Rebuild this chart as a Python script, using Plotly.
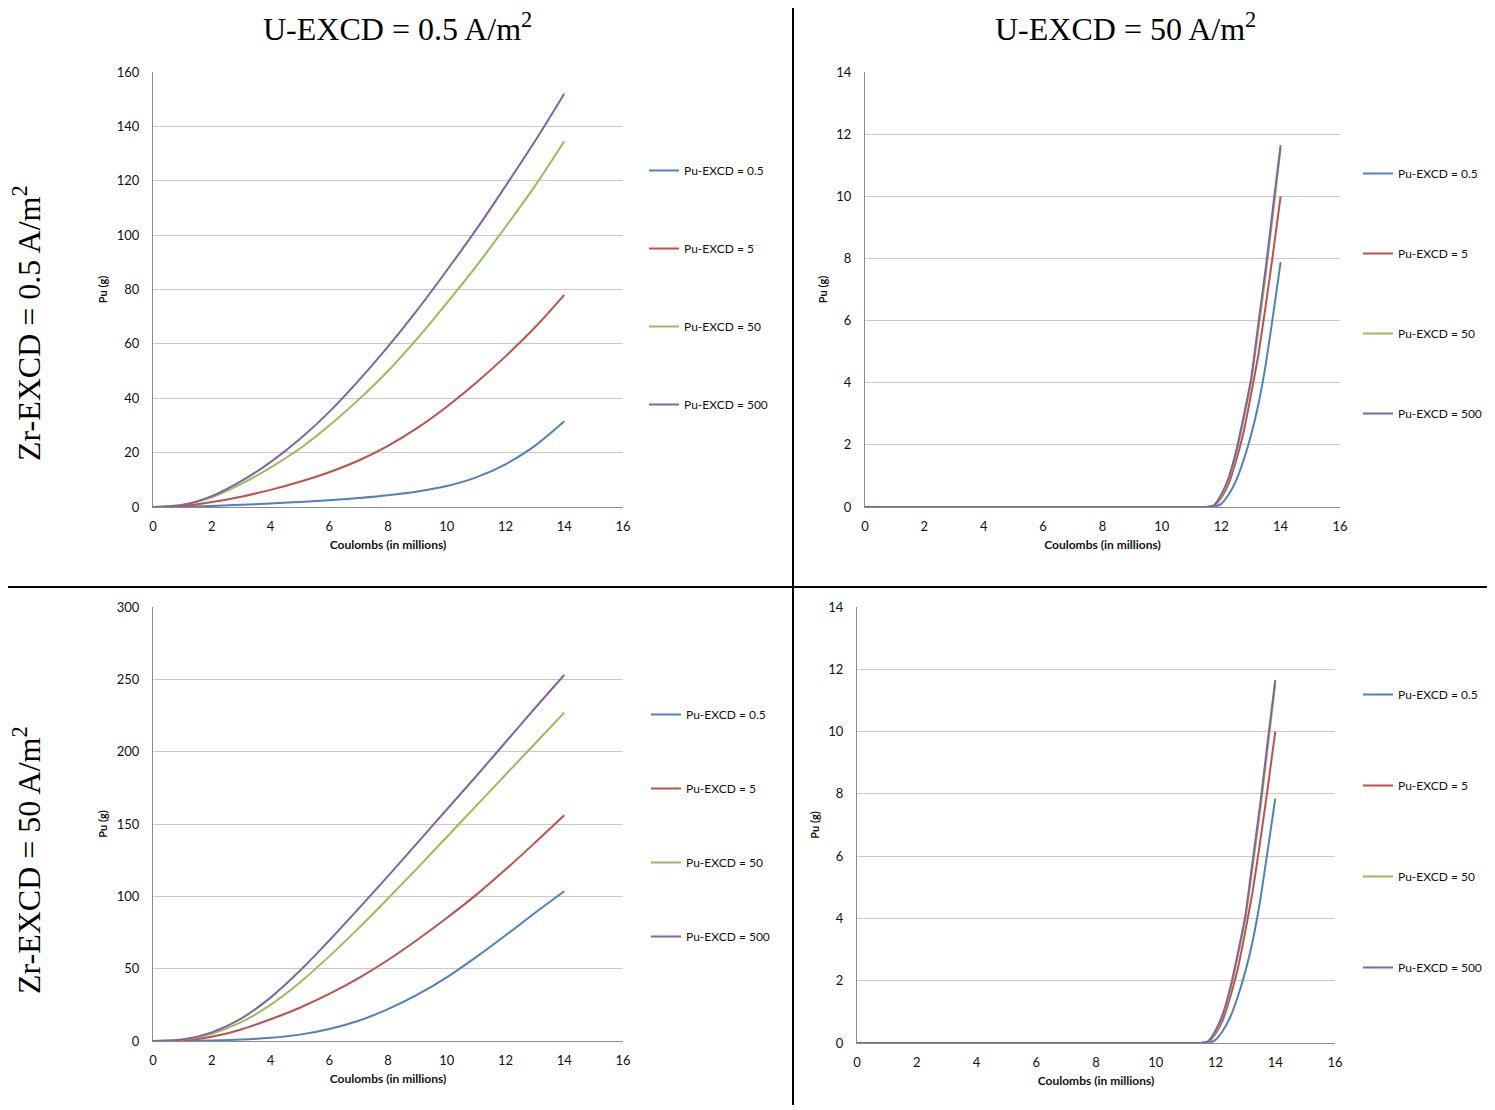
import plotly.graph_objects as go

# ---------------- data ----------------
series_names = ["Pu-EXCD = 0.5", "Pu-EXCD = 5", "Pu-EXCD = 50", "Pu-EXCD = 500"]
series_colors = ["#4F81BD", "#C0504D", "#9BBB59", "#8064A2"]

# left column (U-EXCD = 0.5 A/m2)
x_left = [0, 1, 2, 3, 4, 5, 6, 7, 8, 9, 10, 11, 12, 13, 14]

tl_blue = [0, 0.1, 0.4, 0.8, 1.3, 1.85, 2.5, 3.3, 4.3, 5.7, 7.7, 10.9, 15.7, 22.5, 31.5]
tl_red = [0, 0.3, 1.8, 3.8, 6.3, 9.3, 12.8, 17.1, 22.5, 29.1, 36.9, 45.7, 55.4, 66, 78]
tl_green = [0, 0.8, 3.6, 8.5, 14.5, 21.5, 30, 39.5, 50, 62, 75, 88.5, 103, 118, 134.5]
tl_purple = [0, 0.7, 4, 9.5, 16.5, 25, 35, 46.5, 59, 72.5, 87, 102, 118, 134.5, 152]

bl_blue = [0, 0.1, 0.4, 1, 2.2, 4.4, 8.3, 14, 22, 32, 44, 58, 73, 88.5, 103.5]
bl_red = [0, 0.4, 3, 8, 15, 23, 32.5, 43.5, 56, 70, 85, 101, 118.5, 137, 156]
bl_green = [0, 0.8, 5, 13, 25, 40.5, 58.5, 78, 98.5, 119.5, 141, 162.5, 184, 205.5, 227]
bl_purple = [0, 1, 6, 15.5, 30, 48.5, 69.5, 91.5, 114, 137, 160, 183, 206.5, 230, 253]

# right column (U-EXCD = 50 A/m2)
x_right = [0, 1, 2, 3, 4, 5, 6, 7, 8, 9, 10, 11, 11.5, 11.75, 12, 12.25, 12.5,
           12.75, 13, 13.25, 13.5, 13.75, 14]

tr_blue = [0, 0, 0, 0, 0, 0, 0, 0, 0, 0, 0, 0, 0, 0, 0.1, 0.4, 0.85, 1.5, 2.3, 3.3, 4.6, 6.2, 7.88]
tr_red = [0, 0, 0, 0, 0, 0, 0, 0, 0, 0, 0, 0, 0, 0.03, 0.3, 0.75, 1.5, 2.4, 3.6, 4.9, 6.5, 8.2, 10.0]
tr_green = [0, 0, 0, 0, 0, 0, 0, 0, 0, 0, 0, 0, 0, 0.04, 0.35, 0.9, 1.7, 2.8, 4.0, 5.7, 7.5, 9.5, 11.55]
tr_purple = [0, 0, 0, 0, 0, 0, 0, 0, 0, 0, 0, 0, 0, 0.05, 0.4, 0.95, 1.8, 2.9, 4.1, 5.9, 7.7, 9.7, 11.65]

br_blue = [0, 0, 0, 0, 0, 0, 0, 0, 0, 0, 0, 0, 0, 0, 0.1, 0.4, 0.85, 1.5, 2.3, 3.3, 4.6, 6.2, 7.85]
br_red = [0, 0, 0, 0, 0, 0, 0, 0, 0, 0, 0, 0, 0, 0.03, 0.3, 0.75, 1.5, 2.4, 3.6, 4.9, 6.5, 8.2, 10.0]
br_green = [0, 0, 0, 0, 0, 0, 0, 0, 0, 0, 0, 0, 0, 0.04, 0.35, 0.9, 1.7, 2.8, 4.0, 5.7, 7.5, 9.5, 11.55]
br_purple = [0, 0, 0, 0, 0, 0, 0, 0, 0, 0, 0, 0, 0, 0.05, 0.4, 0.95, 1.8, 2.9, 4.1, 5.9, 7.7, 9.7, 11.65]

x_ticks = [0, 2, 4, 6, 8, 10, 12, 14, 16]
col_titles = ["U-EXCD = 0.5 A/m<sup>2</sup>", "U-EXCD = 50 A/m<sup>2</sup>"]
row_titles = ["Zr-EXCD = 0.5 A/m<sup>2</sup>", "Zr-EXCD = 50 A/m<sup>2</sup>"]
x_title = "<b>Coulombs (in millions)</b>"
y_title = "<b>Pu (g)</b>"

# ---------------- layout helpers ----------------
# the page body has an 8px margin, so the figure is drawn 8px in from the window edge
OFF = 8
W, H = 1495 - OFF, 1110 - OFF
FONT = "Lato, 'Open Sans', sans-serif"


def fx(px):
    return (px - OFF) / W


def fy(py):
    return 1 - (py - OFF) / H


panels = [
    # (xaxis, yaxis, x px, y px (top,bottom), y range, dtick, x data, series, legend, legend top px, gap, smoothing)
    ("x", "y", (153, 623), (72, 507), [0, 160], 20, x_left,
     [tl_blue, tl_red, tl_green, tl_purple], "legend", 156, 59, 1.0),
    ("x2", "y2", (865, 1340), (72, 507), [0, 14], 2, x_right,
     [tr_blue, tr_red, tr_green, tr_purple], "legend2", 159, 61, 0.5),
    ("x3", "y3", (153, 623), (607, 1041), [0, 300], 50, x_left,
     [bl_blue, bl_red, bl_green, bl_purple], "legend3", 700, 55, 1.0),
    ("x4", "y4", (857, 1335), (607, 1043), [0, 14], 2, x_right,
     [br_blue, br_red, br_green, br_purple], "legend4", 680, 72, 0.5),
]

legend_x_px = [644, 1358, 646, 1358]

fig = go.Figure()
layout = dict(
    width=W, height=H,
    margin=dict(l=0, r=0, t=0, b=0, autoexpand=False),
    paper_bgcolor="white", plot_bgcolor="white",
    font=dict(family=FONT, size=12, color="#111111"),
    showlegend=True,
)

tick_font = dict(size=13, family=FONT, color="#111111")

for i, (xa, ya, xpx, ypx, yr, dt, xd, ser, lg, lgy, gap, sm) in enumerate(panels):
    for k in range(4):
        fig.add_trace(go.Scatter(
            x=xd, y=ser[k], mode="lines", name=series_names[k],
            line=dict(color=series_colors[k], width=2, shape="spline", smoothing=sm),
            xaxis=xa, yaxis=ya, legend=lg, legendgroup=f"{lg}_{k}",
            hoverinfo="skip",
        ))
    xkey = "xaxis" if xa == "x" else "xaxis" + xa[1:]
    ykey = "yaxis" if ya == "y" else "yaxis" + ya[1:]
    layout[xkey] = dict(
        domain=[fx(xpx[0]), fx(xpx[1])], anchor=ya, range=[0, 16],
        tickvals=x_ticks, showgrid=False, zeroline=False,
        showline=True, linecolor="#8a8a8a", linewidth=1,
        ticks="", ticklabelstandoff=7, tickfont=tick_font, automargin=False,
        title=dict(text=x_title, font=dict(size=12, family=FONT, color="#111"), standoff=8),
        fixedrange=True,
    )
    layout[ykey] = dict(
        domain=[fy(ypx[1]), fy(ypx[0])], anchor=xa, range=yr, dtick=dt,
        showgrid=True, gridcolor="#c8c8c8", gridwidth=1, zeroline=False,
        showline=True, linecolor="#8a8a8a", linewidth=1,
        ticks="", ticklabelstandoff=10, tickfont=tick_font, automargin=False,
        title=dict(text=y_title, font=dict(size=11, family=FONT, color="#111"), standoff=6),
        fixedrange=True,
    )
    layout[lg] = dict(
        x=fx(legend_x_px[i]), y=fy(lgy), xanchor="left", yanchor="top",
        xref="paper", yref="paper",
        bgcolor="rgba(0,0,0,0)", borderwidth=0,
        font=dict(size=12, family=FONT, color="#111"),
        tracegroupgap=gap, traceorder="grouped", itemwidth=30,
    )

fig.update_layout(**layout)

# column and row titles
title_font = dict(family="'Liberation Serif', 'Times New Roman', serif", size=32, color="black")
for txt, cx in zip(col_titles, [397, 1125]):
    fig.add_annotation(text=txt, x=fx(cx), y=fy(27), xref="paper", yref="paper",
                       showarrow=False, font=title_font, xanchor="center", yanchor="middle")
for txt, cy in zip(row_titles, [323, 860]):
    fig.add_annotation(text=txt, x=fx(27), y=fy(cy), xref="paper", yref="paper",
                       showarrow=False, font=title_font, textangle=-90,
                       xanchor="center", yanchor="middle")

# separator lines
fig.add_shape(type="line", xref="paper", yref="paper", x0=fx(793), x1=fx(793), y0=1, y1=fy(1105),
              line=dict(color="black", width=2))
fig.add_shape(type="line", xref="paper", yref="paper", x0=0, x1=1, y0=fy(587), y1=fy(587),
              line=dict(color="black", width=2))

fig.write_html("out.html")
